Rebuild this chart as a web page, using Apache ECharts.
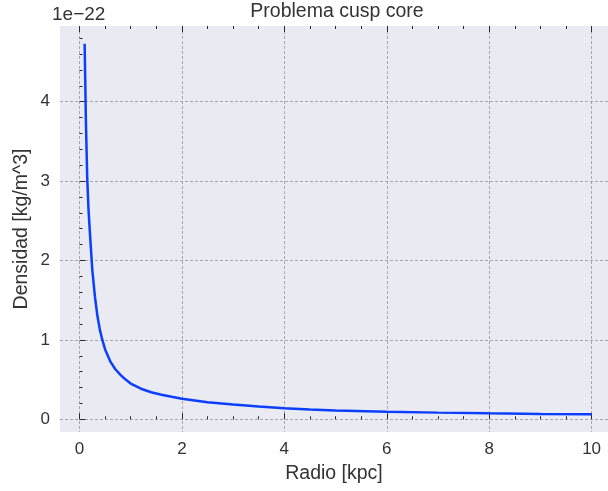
<!DOCTYPE html>
<html>
<head>
<meta charset="utf-8">
<script src="https://cdn.jsdelivr.net/npm/echarts@6/dist/echarts.min.js"></script>
<style>
  html, body { margin: 0; padding: 0; background: #fff; }
  #chart { width: 608px; height: 491px; }
</style>
</head>
<body>
<div id="chart"></div>
<script>
// Radius [kpc] and density [1e-22 kg/m^3] of the cusp profile
const radio = [0.1, 0.125, 0.15, 0.175, 0.2, 0.25, 0.3, 0.35, 0.4, 0.45, 0.5, 0.6, 0.7, 0.8, 0.9,
  1.0, 1.2, 1.4, 1.6, 1.8, 2.0, 2.5, 3.0, 3.5, 4.0, 4.5, 5.0, 6.0, 7.0, 8.0, 9.0, 10.0];
const densidad = [4.73, 3.75, 3.05, 2.65, 2.38, 1.88, 1.55, 1.3, 1.12, 0.99, 0.88, 0.73, 0.63, 0.56, 0.5,
  0.45, 0.385, 0.34, 0.31, 0.283, 0.258, 0.215, 0.185, 0.16, 0.138, 0.123, 0.112, 0.095, 0.084, 0.075, 0.068, 0.063];

// Tick positions
const xMajor = [0, 2, 4, 6, 8, 10];
const xMinor = [0.5, 1, 1.5, 2.5, 3, 3.5, 4.5, 5, 5.5, 6.5, 7, 7.5, 8.5, 9, 9.5];
const yMajor = [0, 1, 2, 3, 4];
const yMinor = [0.2, 0.4, 0.6, 0.8, 1.2, 1.4, 1.6, 1.8, 2.2, 2.4, 2.6, 2.8, 3.2, 3.4, 3.6, 3.8, 4.2, 4.4, 4.6, 4.8];

const X_MIN = -0.381, X_MAX = 10.32;
const Y_MIN = -0.16, Y_MAX = 4.953;
const FONT = 'Liberation Sans, Arial, sans-serif';
const TXT = '#333';
const TICK = '#2a2a2a';

const gridBox = { left: 60, top: 26, right: 0, bottom: 59 };

function xAxisDef(gridIndex, position, ticks, len, opts) {
  return Object.assign({
    type: 'value', gridIndex, position, min: X_MIN, max: X_MAX,
    axisLine: { show: false },
    axisTick: { show: true, inside: true, length: len, customValues: ticks,
                lineStyle: { color: TICK, width: 1 } },
    axisLabel: { show: false },
    splitLine: { show: false }
  }, opts || {});
}
function yAxisDef(gridIndex, ticks, len, opts) {
  return Object.assign({
    type: 'value', gridIndex, position: 'left', min: Y_MIN, max: Y_MAX,
    axisLine: { show: false },
    axisTick: { show: true, inside: true, length: len, customValues: ticks,
                lineStyle: { color: TICK, width: 1 } },
    axisLabel: { show: false },
    splitLine: { show: false }
  }, opts || {});
}

const gridLine = { show: true, lineStyle: { color: '#959595', width: 0.8, type: [3, 2] } };

const option = {
  animation: false,
  grid: [
    Object.assign({ show: true, backgroundColor: '#EAEAF2', borderWidth: 0 }, gridBox),
    Object.assign({ show: false }, gridBox)
  ],
  xAxis: [
    xAxisDef(0, 'bottom', xMajor, 6, {
      axisLabel: { show: true, customValues: xMajor, color: TXT, fontSize: 17, fontFamily: FONT, margin: 9 },
      splitLine: gridLine,
      name: 'Radio [kpc]', nameLocation: 'middle', nameGap: 32, nameMoveOverlap: false,
      nameTextStyle: { color: TXT, fontSize: 19.5, fontFamily: FONT }
    }),
    xAxisDef(0, 'top', xMajor, 6),
    xAxisDef(1, 'bottom', xMinor, 3),
    xAxisDef(1, 'top', xMinor, 3)
  ],
  yAxis: [
    yAxisDef(0, yMajor, 6, {
      axisLabel: { show: true, customValues: yMajor, color: TXT, fontSize: 17, fontFamily: FONT, margin: 10 },
      splitLine: gridLine,
      name: 'Densidad [kg/m^3]', nameLocation: 'middle', nameGap: 28, nameRotate: 90, nameMoveOverlap: false,
      nameTextStyle: { color: TXT, fontSize: 19.5, fontFamily: FONT }
    }),
    yAxisDef(1, yMinor, 3)
  ],
  series: [{
    type: 'line',
    xAxisIndex: 0, yAxisIndex: 0,
    data: radio.map((r, i) => [r, densidad[i]]),
    showSymbol: false,
    smooth: false,
    lineStyle: { color: '#0a3fff', width: 2.5 },
    z: 5
  }],
  graphic: [
    { type: 'text', left: 52, top: 5,
      style: { text: '1e\u221222', fill: TXT, fontSize: 19, fontFamily: FONT } },
    { type: 'text', x: 337, y: 2,
      style: { text: 'Problema cusp core', fill: TXT, fontSize: 19.5, fontFamily: FONT, textAlign: 'center' } }
  ]
};

const chart = echarts.init(document.getElementById('chart'), null, { renderer: 'canvas' });
chart.setOption(option);
</script>
</body>
</html>
